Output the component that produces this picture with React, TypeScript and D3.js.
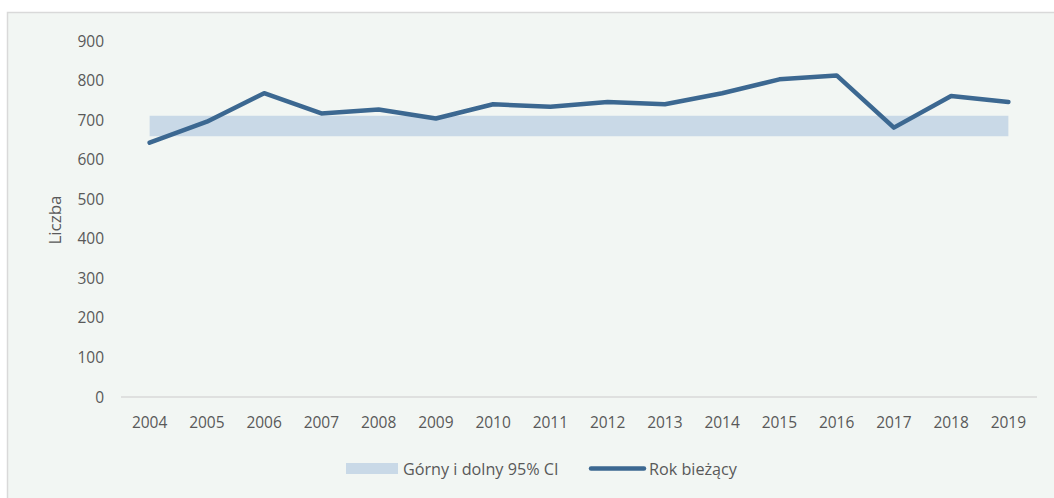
import React from "react";
import * as d3 from "d3";

const years = ["2004","2005","2006","2007","2008","2009","2010","2011","2012","2013","2014","2015","2016","2017","2018","2019"];
const currentYear = [643, 696, 768, 717, 727, 704, 740, 734, 746, 740, 768, 803, 813, 681, 761, 746];
const ciLower = [659, 659, 659, 659, 659, 659, 659, 659, 659, 659, 659, 659, 659, 659, 659, 659];
const ciUpper = [711, 711, 711, 711, 711, 711, 711, 711, 711, 711, 711, 711, 711, 711, 711, 711];
const yTicks = [0, 100, 200, 300, 400, 500, 600, 700, 800, 900];
const legendLabels = ["Górny i dolny 95% CI", "Rok bieżący"];

const W = 1054, H = 498;
const FONT = "'Open Sans', sans-serif";
const TXT = "#595959";
const LINE = "#3c6891";
const BAND = "#c9d9e7";

export default function App() {
  const x = d3.scaleBand<string>().domain(years).range([121, 1037]);
  const y = d3.scaleLinear().domain([0, 900]).range([397, 41]);
  const cx = (d: string) => (x(d) as number) + x.bandwidth() / 2;

  const line = d3.line<number>()
    .x((_, i) => cx(years[i]))
    .y((v) => y(v))
    .curve(d3.curveLinear);

  const area = d3.area<number>()
    .x((_, i) => cx(years[i]))
    .y0((_, i) => y(ciLower[i]))
    .y1((_, i) => y(ciUpper[i]));

  return (
    <svg width={W} height={H} style={{ position: "absolute", left: 0, top: 0 }}>
      <rect x={0} y={0} width={W} height={H} fill="#ffffff" />
      <rect x={7.5} y={12.5} width={W} height={H} fill="#f2f6f3" stroke="#d9d9d9" strokeWidth={1.5} />
      <path d={area(currentYear) || ""} fill={BAND} />
      <line x1={121} x2={1037} y1={y(0)} y2={y(0)} stroke="#d9d9d9" strokeWidth={1.5} />
      {yTicks.map((t) => (
        <text key={t} x={104} y={y(t)} dy="0.36em" textAnchor="end" fontFamily={FONT} fontSize={15.5} fill={TXT}>{t}</text>
      ))}
      {years.map((yr) => (
        <text key={yr} x={cx(yr)} y={428} textAnchor="middle" fontFamily={FONT} fontSize={15.5} fill={TXT}>{yr}</text>
      ))}
      <text transform={`translate(61,220) rotate(-90)`} textAnchor="middle" fontFamily={FONT} fontSize={17} fill={TXT}>Liczba</text>
      <path d={line(currentYear) || ""} fill="none" stroke={LINE} strokeWidth={4.5} strokeLinejoin="round" strokeLinecap="round" />
      <rect x={346} y={463} width={52} height={11} fill={BAND} />
      <text x={403} y={474.5} fontFamily={FONT} fontSize={16.2} fill={TXT}>{legendLabels[0]}</text>
      <line x1={591} x2={644} y1={468.5} y2={468.5} stroke={LINE} strokeWidth={4.5} strokeLinecap="round" />
      <text x={649} y={474.5} fontFamily={FONT} fontSize={16.2} fill={TXT}>{legendLabels[1]}</text>
    </svg>
  );
}
